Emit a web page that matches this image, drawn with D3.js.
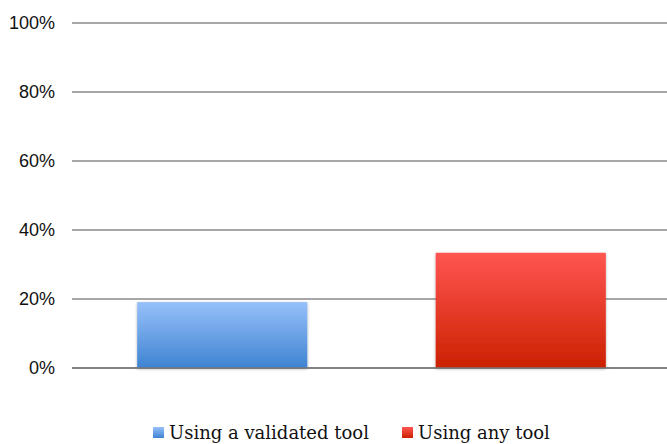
<!DOCTYPE html>
<html>
<head>
<meta charset="utf-8">
<script src="https://cdn.jsdelivr.net/npm/d3@7"></script>
<style>
  body { margin: 0; background: #fff; }
</style>
</head>
<body>
<div id="chart"></div>
<script>
// chart data
const categories = ["Using a validated tool", "Using any tool"];
const values = [0.191, 0.334];
const yTicks = [0, 0.2, 0.4, 0.6, 0.8, 1.0];
const gradients = [
  ["#97c0fa", "#3f84d2"],
  ["#ff5552", "#cc2100"]
];

const w = 667, h = 444;
const margin = {top: 23, right: 0, bottom: 76, left: 72};

const svg = d3.select("#chart").append("svg")
    .attr("width", w)
    .attr("height", h);

const defs = svg.append("defs");
gradients.forEach((g, i) => {
  const lg = defs.append("linearGradient")
      .attr("id", "grad" + i)
      .attr("x1", 0).attr("y1", 0).attr("x2", 0).attr("y2", 1);
  lg.append("stop").attr("offset", "0%").attr("stop-color", g[0]);
  lg.append("stop").attr("offset", "100%").attr("stop-color", g[1]);
});
const shadow = defs.append("filter").attr("id", "shadow")
    .attr("x", "-10%").attr("y", "-10%").attr("width", "120%").attr("height", "120%");
shadow.append("feDropShadow")
    .attr("dx", 0).attr("dy", 1).attr("stdDeviation", 1.5)
    .attr("flood-color", "#000").attr("flood-opacity", 0.3);

const y = d3.scaleLinear().domain([0, 1]).range([h - margin.bottom, margin.top]);
const x = d3.scaleBand().domain(categories)
    .range([margin.left + 1, w - margin.right + 3])
    .paddingInner(0.43).paddingOuter(0.215);

// gridlines
svg.append("g")
  .selectAll("line")
  .data(yTicks)
  .join("line")
    .attr("x1", margin.left)
    .attr("x2", w)
    .attr("y1", d => y(d))
    .attr("y2", d => y(d))
    .attr("stroke", "#8a8a8a")
    .attr("stroke-width", 1.5);

// y axis labels
svg.append("g")
  .selectAll("text")
  .data(yTicks)
  .join("text")
    .attr("x", 55)
    .attr("y", d => y(d))
    .attr("dy", "0.36em")
    .attr("text-anchor", "end")
    .attr("font-family", "Liberation Sans, Arial, sans-serif")
    .attr("font-size", 18)
    .attr("fill", "#111")
    .text(d3.format(".0%"));

// bars
svg.append("g")
  .selectAll("rect")
  .data(values)
  .join("rect")
    .attr("x", (d, i) => x(categories[i]))
    .attr("width", x.bandwidth())
    .attr("y", d => y(d))
    .attr("height", d => y(0) - y(d))
    .attr("fill", (d, i) => `url(#grad${i})`)
    .attr("filter", "url(#shadow)");

// baseline on top
svg.append("line")
    .attr("x1", margin.left).attr("x2", w)
    .attr("y1", y(0)).attr("y2", y(0))
    .attr("stroke", "#777").attr("stroke-width", 1.5);

// legend
const legendX = [153, 402];
const legend = svg.append("g")
  .selectAll("g")
  .data(categories)
  .join("g")
    .attr("transform", (d, i) => `translate(${legendX[i]},433)`);
legend.append("rect")
    .attr("x", 0).attr("y", -6)
    .attr("width", 11).attr("height", 11)
    .attr("fill", (d, i) => `url(#grad${i})`);
legend.append("text")
    .attr("x", 16)
    .attr("dy", "0.36em")
    .attr("font-family", "DejaVu Serif, Liberation Serif, serif")
    .attr("font-size", 18)
    .attr("fill", "#111")
    .text(d => d);
</script>
</body>
</html>
